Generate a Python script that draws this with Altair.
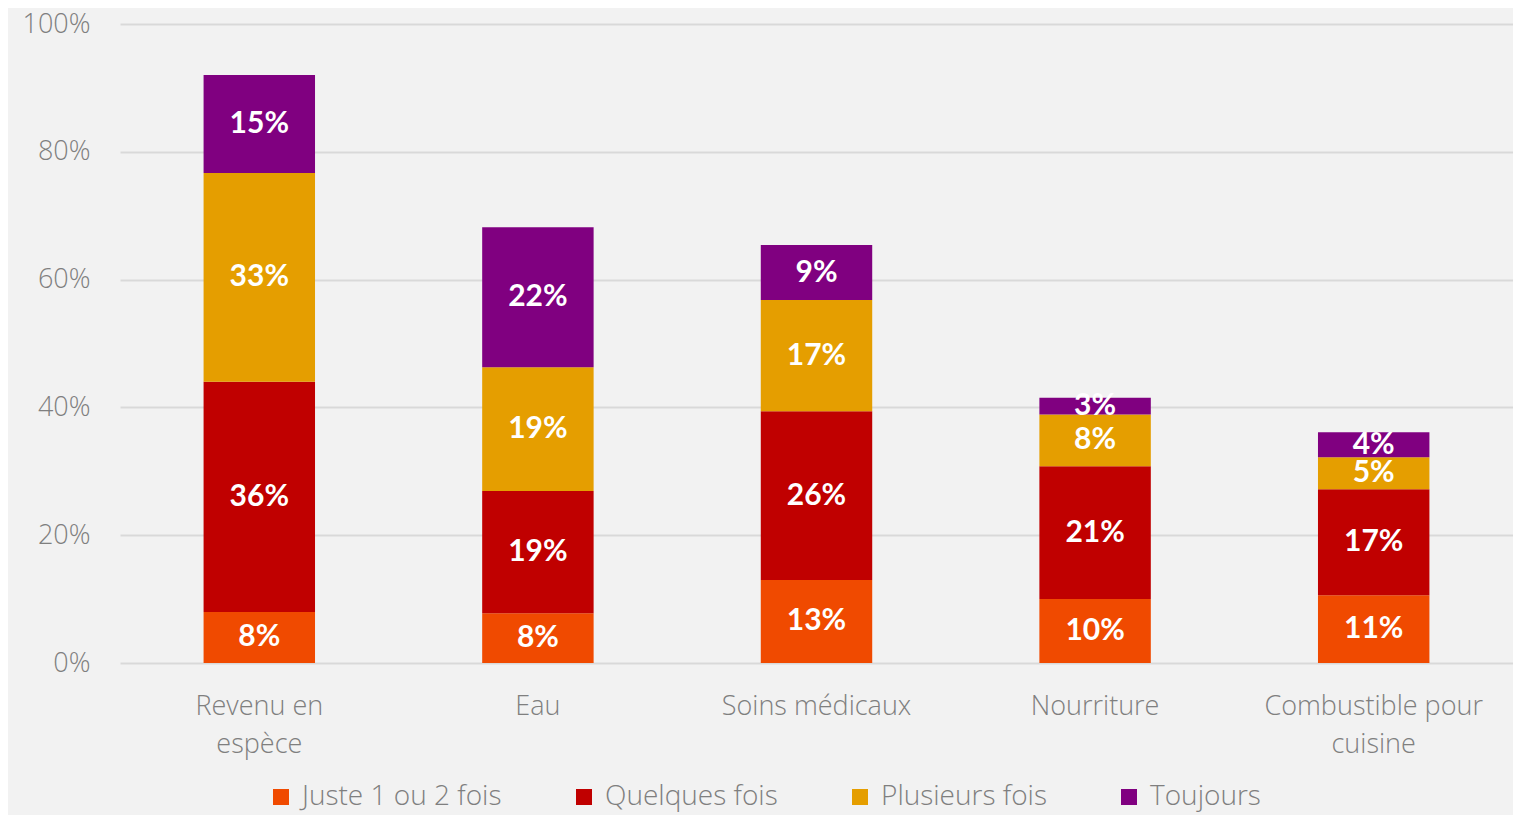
import altair as alt
import pandas as pd

categories = ["Revenu en espèce", "Eau", "Soins médicaux", "Nourriture", "Combustible pour cuisine"]
series = ["Juste 1 ou 2 fois", "Quelques fois", "Plusieurs fois", "Toujours"]
colors = ["#F04A00", "#C00000", "#E59E00", "#800080"]

juste = [8.0, 7.8, 13.0, 10.0, 10.6]
quelques = [36.0, 19.1, 26.4, 20.8, 16.6]
plusieurs = [32.7, 19.4, 17.4, 8.1, 5.0]
toujours = [15.3, 21.9, 8.6, 2.6, 3.9]

rows = []
for si, (s, vals) in enumerate(zip(series, [juste, quelques, plusieurs, toujours])):
    for c, v in zip(categories, vals):
        rows.append({"cat": c, "serie": s, "ord": si, "value": v / 100.0})
df = pd.DataFrame(rows)

FONT = "Open Sans"
LFONT = "Lato"
GRAY = "#7F7F7F"

base = alt.Chart(df).transform_stack(
    stack="value", groupby=["cat"], as_=["y0", "y1"],
    sort=[alt.SortField("ord", order="ascending")]
).transform_calculate(
    mid="(datum.y0 + datum.y1) / 2",
    lab="round(datum.value * 100) + '%'"
)

xenc = alt.X("cat:N", sort=categories,
             scale=alt.Scale(paddingInner=0.6, paddingOuter=0.3),
             axis=alt.Axis(title=None, labelAngle=0, ticks=False, domain=False,
                           labelFont=FONT, labelFontSize=27, labelFontWeight=300,
                           labelColor=GRAY,
                           labelPadding=30, labelLineHeight=38, labelLimit=400,
                           labelExpr="datum.value == 'Revenu en espèce' ? ['Revenu en', 'espèce'] : datum.value == 'Combustible pour cuisine' ? ['Combustible pour', 'cuisine'] : datum.label"))

bars = base.mark_bar().encode(
    x=xenc,
    y=alt.Y("y0:Q", scale=alt.Scale(domain=[0, 1]),
            axis=alt.Axis(title=None, format=".0%", values=[0, 0.2, 0.4, 0.6, 0.8, 1.0],
                          ticks=False, domain=False, labelFont=FONT, labelFontSize=27,
                          labelFontWeight=300,
                          labelColor=GRAY, labelPadding=30,
                          gridColor="#D9D9D9", gridWidth=2)),
    y2="y1:Q",
    color=alt.Color("serie:N", sort=series,
                    scale=alt.Scale(domain=series, range=colors),
                    legend=alt.Legend(title=None, orient="none", direction="horizontal",
                                      legendX=147, legendY=759, symbolType="square",
                                      symbolSize=256, symbolStrokeWidth=0,
                                      labelFont=FONT, labelFontSize=28, labelFontWeight=300,
                                      labelColor=GRAY,
                                      labelOffset=7, columnPadding=68, padding=0,
                                      labelLimit=400)),
)

texts = base.mark_text(color="white", font=LFONT, fontWeight="bold", fontSize=30,
                       baseline="middle", align="center").encode(
    x=alt.X("cat:N", sort=categories),
    y=alt.Y("mid:Q"),
    text="lab:N",
)

chart = alt.layer(bars, texts).properties(
    width=1393, height=639,
    autosize=alt.AutoSizeParams(type="none"),
    padding={"left": 112, "top": 16, "right": 0, "bottom": 152},
    background="#F2F2F2",
).configure_view(stroke=None)

chart.save("out.html", embed_options={"renderer": "svg", "actions": False})
